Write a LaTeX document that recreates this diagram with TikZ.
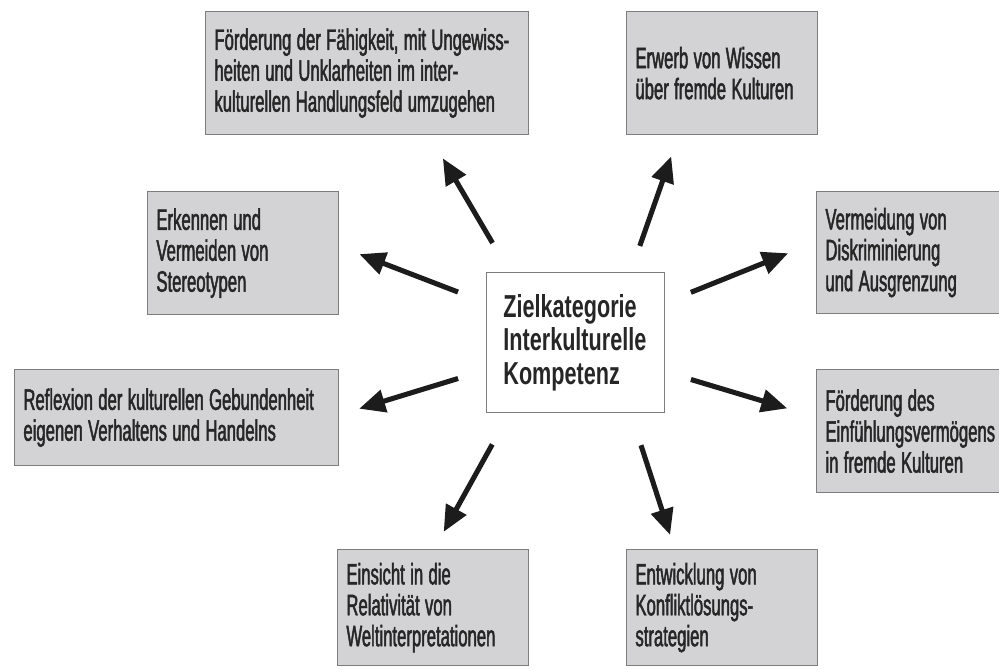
\documentclass[tikz,border=0pt]{standalone}
\usepackage{fontspec}
\setmainfont{Liberation Sans}[FakeStretch=0.565, FakeBold=1.6]
\newfontfamily\zielfont{Liberation Sans}[FakeStretch=0.68]
\usetikzlibrary{arrows.meta}

\definecolor{kastengrau}{RGB}{211,211,213}
\definecolor{randgrau}{RGB}{125,125,125}
\definecolor{pfeilschwarz}{RGB}{28,28,28}
\definecolor{schrift}{RGB}{38,38,38}

\newcommand\kastenschrift{\fontsize{21}{22}\selectfont\spaceskip=3.8pt plus 1pt minus 1pt\relax}

\begin{document}
\begin{tikzpicture}[
    kasten/.style={draw=randgrau, fill=kastengrau, line width=0.9pt, anchor=north west,
        align=flush left, inner xsep=0.22cm, inner ysep=0pt, text=schrift,
        font=\kastenschrift},
    zielkasten/.style={draw=randgrau, fill=white, line width=0.9pt, anchor=north west,
        align=flush left, inner xsep=0.42cm, inner ysep=0pt, text=schrift,
        font=\zielfont\bfseries\fontsize{22.6}{23.8}\selectfont},
    pfeil/.style={draw=pfeilschwarz, line width=3.6pt,
        -{Triangle[length=0.65cm,width=0.56cm]}}
]

    \useasboundingbox (0,0) rectangle (24.975,16.75);
    \clip (0,0) rectangle (24.975,16.75);

    % the centre
    \node[zielkasten, text width=3.6cm, minimum height=3.5cm] (ziel) at (12.15,9.95)
        {Zielkategorie\\Interkulturelle\\Kompetenz};

    % these are the goals around it
    \node[kasten, text width=7.635cm, minimum height=3.075cm] (faehigkeit) at (5.125,16.475)
        {Förderung der Fähigkeit, mit Ungewiss-\\heiten und Unklarheiten im inter-\\kulturellen Handlungsfeld umzugehen};
    \node[kasten, text width=4.335cm, minimum height=3.075cm] (wissen) at (15.65,16.475)
        {Erwerb von Wissen\\über fremde Kulturen};
    \node[kasten, text width=4.335cm, minimum height=3.075cm] (stereotypen) at (3.675,11.975)
        {Erkennen und\\Vermeiden von\\Stereotypen};
    \node[kasten, text width=4.56cm, minimum height=3.05cm] (diskriminierung) at (20.4,11.975)
        {Vermeidung von\\Diskriminierung\\und Ausgrenzung};
    \node[kasten, text width=7.66cm, minimum height=2.4cm] (reflexion) at (0.35,7.525)
        {Reflexion der kulturellen Gebundenheit\\eigenen Verhaltens und Handelns};
    \node[kasten, text width=4.56cm, minimum height=3.075cm] (einfuehlung) at (20.4,7.525)
        {Förderung des\\Einfühlungsvermögens\\in fremde Kulturen};
    \node[kasten, text width=4.335cm, minimum height=2.9cm] (relativitaet) at (8.425,3.025)
        {Einsicht in die\\Relativität von\\Weltinterpretationen};
    \node[kasten, text width=4.335cm, minimum height=2.9cm] (konflikt) at (15.65,3.025)
        {Entwicklung von\\Konfliktlösungs-\\strategien};

    % arrows out of the centre
    \draw[pfeil, shorten <=0.84cm, shorten >=0.67cm] (ziel.133) -- (faehigkeit.315);
    \draw[pfeil, shorten <=0.69cm, shorten >=0.56cm] (ziel.52) -- (wissen.235);
    \draw[pfeil, shorten <=0.75cm, shorten >=0.54cm] (ziel.156) -- (stereotypen.4);
    \draw[pfeil, shorten <=0.70cm, shorten >=0.75cm] (ziel.24) -- (diskriminierung.174);
    \draw[pfeil, shorten <=0.73cm, shorten >=0.52cm] (ziel.197) -- (reflexion.1);
    \draw[pfeil, shorten <=0.68cm, shorten >=0.75cm] (ziel.342) -- (einfuehlung.172);
    \draw[pfeil, shorten <=0.89cm, shorten >=0.49cm] (ziel.227) -- (relativitaet.89);
    \draw[pfeil, shorten <=0.84cm, shorten >=0.37cm] (ziel.308) -- (konflikt.129);

\end{tikzpicture}
\end{document}
